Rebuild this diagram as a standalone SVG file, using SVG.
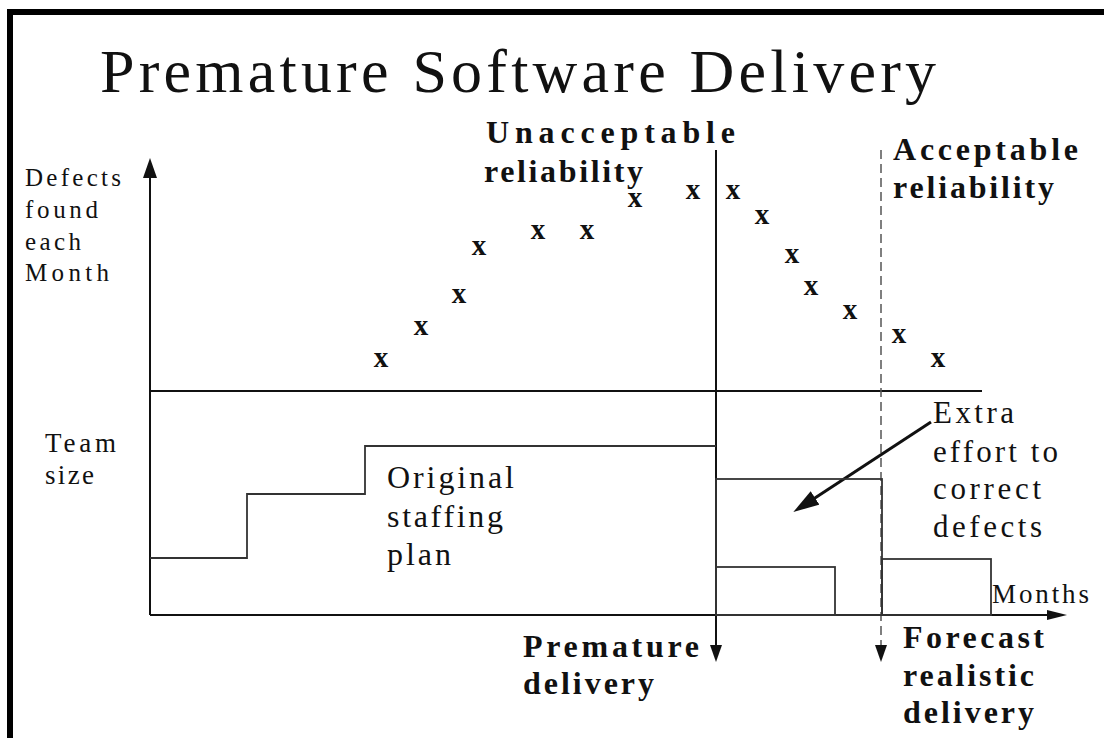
<svg xmlns="http://www.w3.org/2000/svg" width="1104" height="738" viewBox="0 0 1104 738">
<style>
.r{font-family:"Liberation Serif","Times New Roman",serif;fill:#111}
.b{font-family:"Liberation Serif","Times New Roman",serif;font-weight:bold;fill:#111}
.ln{stroke:#111;stroke-width:2;fill:none}
.th{stroke:#333;stroke-width:1.8;fill:none}
.xm{font-family:"Liberation Serif","Times New Roman",serif;font-weight:bold;font-size:29px;fill:#111;text-anchor:middle}
</style>
<defs>
<marker id="aBig" markerUnits="userSpaceOnUse" markerWidth="20" markerHeight="14" refX="10" refY="7" orient="auto"><path d="M0,0 L20,7 L0,14 z" fill="#111"/></marker>
<marker id="aDn" markerUnits="userSpaceOnUse" markerWidth="17" markerHeight="12" refX="7" refY="6" orient="auto"><path d="M0,0 L17,6 L0,12 z" fill="#111"/></marker>
<marker id="aX" markerUnits="userSpaceOnUse" markerWidth="20" markerHeight="10" refX="8" refY="5" orient="auto"><path d="M0,0 L20,5 L0,10 z" fill="#111"/></marker>
<marker id="aE" markerUnits="userSpaceOnUse" markerWidth="26" markerHeight="16" refX="12" refY="8" orient="auto"><path d="M0,0 L26,8 L0,16 z" fill="#111"/></marker>
</defs>
<rect width="1104" height="738" fill="#fff"/>
<g id="frame">
<line x1="7" y1="12" x2="1104" y2="12" stroke="#000" stroke-width="6"/>
<line x1="10" y1="9" x2="10" y2="738" stroke="#000" stroke-width="6"/>
</g>
<g id="title"><text class="r" x="100" y="92" font-size="62" textLength="836" lengthAdjust="spacing">Premature Software Delivery</text></g>
<g id="connectors">
<line class="ln" x1="150" y1="615" x2="150" y2="168" marker-end="url(#aBig)"/>
<line class="ln" x1="150" y1="615" x2="1055" y2="615" marker-end="url(#aX)"/>
<line class="ln" x1="150" y1="391" x2="982" y2="391"/>
<line class="ln" x1="716" y1="150" x2="716" y2="652" marker-end="url(#aDn)"/>
<line x1="881" y1="150" x2="881" y2="652" stroke="#555" stroke-width="1.5" stroke-dasharray="9,5" marker-end="url(#aDn)"/>
<line x1="931" y1="422" x2="805" y2="504.4" stroke="#111" stroke-width="3" marker-end="url(#aE)"/>
</g>
<g id="staffing-plan">
<polyline class="th" points="150,558 247,558 247,494 365,494 365,446 716,446"/>
</g>
<g id="extra-effort">
<rect class="th" x="716" y="479" width="166" height="136"/>
<rect class="th" x="716" y="567" width="119" height="48"/>
<rect class="th" x="882" y="559" width="109" height="56"/>
</g>
<g id="defects-label">
<text class="r" font-size="25" x="25" y="186" textLength="96" lengthAdjust="spacing">Defects</text>
<text class="r" font-size="25" x="25" y="218" textLength="73" lengthAdjust="spacing">found</text>
<text class="r" font-size="25" x="25" y="250" textLength="56" lengthAdjust="spacing">each</text>
<text class="r" font-size="25" x="25" y="281" textLength="84" lengthAdjust="spacing">Month</text>
</g>
<g id="team-label">
<text class="r" font-size="27" x="45" y="452" textLength="71" lengthAdjust="spacing">Team</text>
<text class="r" font-size="27" x="45" y="484" textLength="49" lengthAdjust="spacing">size</text>
</g>
<g id="original-label">
<text class="r" font-size="32" x="387" y="488" textLength="127" lengthAdjust="spacing">Original</text>
<text class="r" font-size="32" x="387" y="527" textLength="116" lengthAdjust="spacing">staffing</text>
<text class="r" font-size="32" x="387" y="565" textLength="64" lengthAdjust="spacing">plan</text>
</g>
<g id="unacceptable-label">
<text class="b" font-size="32" x="486" y="143" textLength="249" lengthAdjust="spacing">Unacceptable</text>
<text class="b" font-size="32" x="484" y="182" textLength="159" lengthAdjust="spacing">reliability</text>
</g>
<g id="acceptable-label">
<text class="b" font-size="32" x="893" y="160" textLength="185" lengthAdjust="spacing">Acceptable</text>
<text class="b" font-size="32" x="893" y="198" textLength="161" lengthAdjust="spacing">reliability</text>
</g>
<g id="extra-label">
<text class="r" font-size="31" x="933" y="423" textLength="81" lengthAdjust="spacing">Extra</text>
<text class="r" font-size="31" x="933" y="462" textLength="125" lengthAdjust="spacing">effort to</text>
<text class="r" font-size="31" x="933" y="499" textLength="108" lengthAdjust="spacing">correct</text>
<text class="r" font-size="31" x="933" y="537" textLength="109" lengthAdjust="spacing">defects</text>
</g>
<g id="months-label"><text class="r" font-size="27" x="992" y="603" textLength="97" lengthAdjust="spacing">Months</text></g>
<g id="premature-label">
<text class="b" font-size="32" x="523" y="657" textLength="176" lengthAdjust="spacing">Premature</text>
<text class="b" font-size="32" x="523" y="694" textLength="131" lengthAdjust="spacing">delivery</text>
</g>
<g id="forecast-label">
<text class="b" font-size="32" x="903" y="648" textLength="141" lengthAdjust="spacing">Forecast</text>
<text class="b" font-size="32" x="903" y="686" textLength="131" lengthAdjust="spacing">realistic</text>
<text class="b" font-size="32" x="903" y="723" textLength="131" lengthAdjust="spacing">delivery</text>
</g>
<g id="defect-marks">
<text class="xm" x="381" y="367">x</text>
<text class="xm" x="421" y="335">x</text>
<text class="xm" x="459" y="303">x</text>
<text class="xm" x="479" y="255">x</text>
<text class="xm" x="538" y="239">x</text>
<text class="xm" x="587" y="239">x</text>
<text class="xm" x="635" y="207">x</text>
<text class="xm" x="693" y="199">x</text>
<text class="xm" x="733" y="199">x</text>
<text class="xm" x="762" y="224">x</text>
<text class="xm" x="792" y="263">x</text>
<text class="xm" x="811" y="295">x</text>
<text class="xm" x="850" y="319">x</text>
<text class="xm" x="899" y="343">x</text>
<text class="xm" x="938" y="367">x</text>
</g>
</svg>
